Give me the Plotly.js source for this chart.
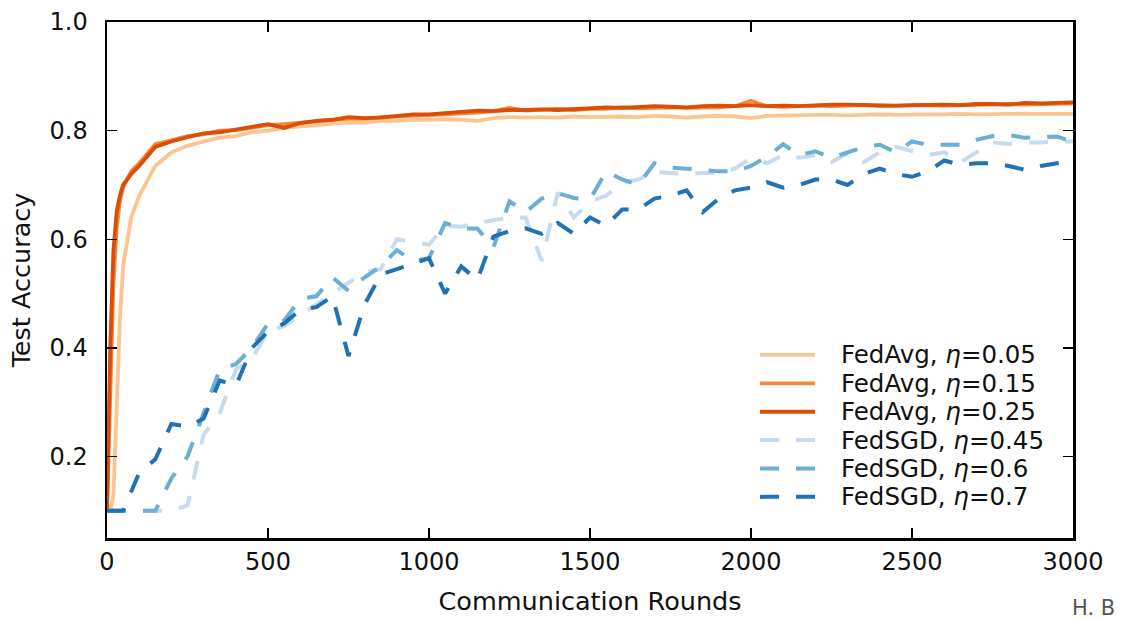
<!DOCTYPE html>
<html>
<head>
<meta charset="utf-8">
<script src="https://cdn.plot.ly/plotly-3.0.1.min.js"></script>
<style>html,body{margin:0;padding:0;background:#fff;}#chart{width:1126px;height:621px;}</style>
</head>
<body>
<div id="chart"></div>
<script>
// Rounds for FedAvg curves (finer sampling early)
const roundsAvg = [0,10,20,30,40,50,75,100,150,200,250,300,350,400,450,500,550,600,650,700,750,800,850,900,950,1000,1050,1100,1150,1200,1250,1300,1350,1400,1450,1500,1550,1600,1650,1700,1750,1800,1850,1900,1950,2000,2050,2100,2150,2200,2250,2300,2350,2400,2450,2500,2550,2600,2650,2700,2750,2800,2850,2900,2950,3000];
const fedAvg005 = [0.10,0.10,0.13,0.30,0.45,0.55,0.64,0.68,0.735,0.76,0.772,0.78,0.787,0.79,0.797,0.80,0.805,0.808,0.81,0.812,0.815,0.815,0.818,0.818,0.82,0.82,0.821,0.82,0.818,0.823,0.825,0.824,0.825,0.824,0.826,0.825,0.826,0.826,0.825,0.827,0.826,0.824,0.826,0.827,0.826,0.823,0.827,0.828,0.828,0.829,0.829,0.828,0.829,0.83,0.829,0.83,0.83,0.83,0.831,0.83,0.831,0.831,0.831,0.831,0.832,0.831];
const fedAvg015 = [0.10,0.33,0.52,0.62,0.67,0.695,0.725,0.74,0.775,0.782,0.79,0.793,0.80,0.801,0.805,0.81,0.812,0.815,0.817,0.82,0.822,0.822,0.825,0.826,0.827,0.829,0.83,0.832,0.833,0.836,0.842,0.837,0.838,0.84,0.838,0.84,0.84,0.843,0.841,0.842,0.843,0.842,0.842,0.843,0.845,0.855,0.845,0.844,0.845,0.846,0.845,0.846,0.847,0.845,0.846,0.846,0.847,0.846,0.847,0.847,0.848,0.849,0.848,0.849,0.85,0.85];
const fedAvg025 = [0.10,0.40,0.58,0.65,0.68,0.70,0.72,0.735,0.77,0.78,0.788,0.795,0.797,0.802,0.806,0.812,0.805,0.814,0.818,0.82,0.825,0.823,0.824,0.827,0.83,0.83,0.832,0.834,0.837,0.836,0.838,0.838,0.839,0.838,0.84,0.841,0.843,0.842,0.843,0.845,0.844,0.843,0.845,0.846,0.845,0.847,0.845,0.846,0.845,0.847,0.848,0.848,0.847,0.847,0.846,0.847,0.848,0.848,0.847,0.849,0.849,0.848,0.851,0.85,0.851,0.852];

// Rounds for FedSGD curves
const roundsSGD = [0,50,100,150,200,250,300,350,400,450,500,550,600,650,700,750,800,850,900,950,1000,1050,1100,1150,1200,1250,1300,1350,1400,1450,1500,1550,1600,1650,1700,1750,1800,1850,1900,1950,2000,2050,2100,2150,2200,2250,2300,2350,2400,2450,2500,2550,2600,2650,2700,2750,2800,2850,2900,2950,3000];
const fedSGD045 = [0.10,0.10,0.10,0.10,0.10,0.11,0.24,0.28,0.36,0.38,0.43,0.44,0.46,0.48,0.50,0.52,0.54,0.545,0.60,0.595,0.59,0.625,0.623,0.63,0.635,0.64,0.64,0.56,0.686,0.64,0.67,0.68,0.705,0.71,0.724,0.722,0.72,0.722,0.722,0.73,0.75,0.74,0.755,0.75,0.755,0.742,0.758,0.742,0.76,0.77,0.762,0.755,0.76,0.742,0.76,0.778,0.776,0.778,0.778,0.78,0.78];
const fedSGD06 = [0.10,0.10,0.10,0.10,0.16,0.20,0.28,0.36,0.37,0.40,0.445,0.45,0.49,0.495,0.53,0.505,0.53,0.55,0.58,0.56,0.565,0.63,0.62,0.62,0.585,0.67,0.65,0.675,0.685,0.676,0.673,0.725,0.71,0.70,0.74,0.732,0.73,0.728,0.725,0.725,0.735,0.752,0.775,0.755,0.762,0.75,0.76,0.77,0.774,0.76,0.78,0.774,0.774,0.774,0.783,0.79,0.792,0.787,0.788,0.789,0.78];
const fedSGD07 = [0.10,0.10,0.17,0.195,0.26,0.255,0.27,0.34,0.33,0.40,0.43,0.445,0.47,0.475,0.495,0.385,0.48,0.535,0.545,0.555,0.565,0.50,0.55,0.525,0.605,0.615,0.62,0.61,0.63,0.61,0.64,0.625,0.655,0.655,0.675,0.68,0.69,0.65,0.675,0.69,0.695,0.705,0.695,0.70,0.71,0.71,0.70,0.72,0.73,0.72,0.715,0.725,0.745,0.737,0.74,0.74,0.735,0.728,0.735,0.74,0.745];

const names = ['FedAvg, <i>η</i>=0.05','FedAvg, <i>η</i>=0.15','FedAvg, <i>η</i>=0.25','FedSGD, <i>η</i>=0.45','FedSGD, <i>η</i>=0.6','FedSGD, <i>η</i>=0.7'];
const colors = ['#fdc48f','#f7883a','#dc4d06','#c6dbef','#6baed6','#2171b5'];
const xTicks = [0,500,1000,1500,2000,2500,3000];
const yTicks = [0.2,0.4,0.6,0.8,1.0];
const yTickText = ['0.2','0.4','0.6','0.8','1.0'];

const dashPat = '19px,17px';
const xs = [roundsAvg, roundsAvg, roundsAvg, roundsSGD, roundsSGD, roundsSGD];
const ys = [fedAvg005, fedAvg015, fedAvg025, fedSGD045, fedSGD06, fedSGD07];
const traces = ys.map((y, i) => ({
  type:'scatter', mode:'lines', x: xs[i], y: y, name: names[i], showlegend:false,
  line: i < 3 ? {color:colors[i], width:3.8} : {color:colors[i], width:4, dash:dashPat}
}));

// Hand-placed legend (matplotlib-style spacing)
const legX0 = 0.676, legX1 = 0.733, legTextX = 0.758, legTop = 0.3547, legStep = 0.0550;
const shapes = [], annotations = [];
names.forEach((nm, i) => {
  const yy = legTop - i * legStep;
  shapes.push({type:'line', xref:'paper', yref:'paper', x0:legX0, x1:legX1, y0:yy, y1:yy,
               line:{color:colors[i], width: i < 3 ? 3.8 : 4, dash: i < 3 ? 'solid' : dashPat}});
  annotations.push({xref:'paper', yref:'paper', x:legTextX, y:yy, xanchor:'left', yanchor:'middle', showarrow:false,
                    text:nm, font:{family:'DejaVu Sans, sans-serif', size:24.5, color:'#111'}});
});
annotations.push({xref:'paper', yref:'paper', x:0.997, y:-0.108, xanchor:'left', yanchor:'top', showarrow:false,
                  text:'H. B', font:{family:'DejaVu Sans, sans-serif', size:21, color:'#555'}});

const layout = {
  width:1126, height:621,
  margin:{l:107, r:53, t:22, b:83},
  paper_bgcolor:'#fff', plot_bgcolor:'#fff',
  font:{family:'DejaVu Sans, sans-serif', color:'#111', size:24},
  showlegend:false,
  xaxis:{range:[0,3000], tickvals:xTicks, ticktext:xTicks.map(String), ticks:'inside', ticklen:10, tickwidth:1.5, tickcolor:'#000',
         showline:true, linecolor:'#000', linewidth:2.5, mirror:'ticks', showgrid:false, zeroline:false,
         ticklabelstandoff:1,
         tickfont:{size:24}, title:{text:'Communication Rounds', font:{size:25.5}, standoff:17}},
  yaxis:{range:[0.05,1.0], tickvals:yTicks, ticktext:yTickText, ticks:'inside', ticklen:10, tickwidth:1.5, tickcolor:'#000',
         showline:true, linecolor:'#000', linewidth:2.5, mirror:'ticks', showgrid:false, zeroline:false,
         ticklabelstandoff:12,
         tickfont:{size:24}, title:{text:'Test Accuracy', font:{size:25.5}, standoff:12}},
  shapes: shapes,
  annotations: annotations
};
Plotly.newPlot('chart', traces, layout, {displayModeBar:false, staticPlot:true});
</script>
</body>
</html>
